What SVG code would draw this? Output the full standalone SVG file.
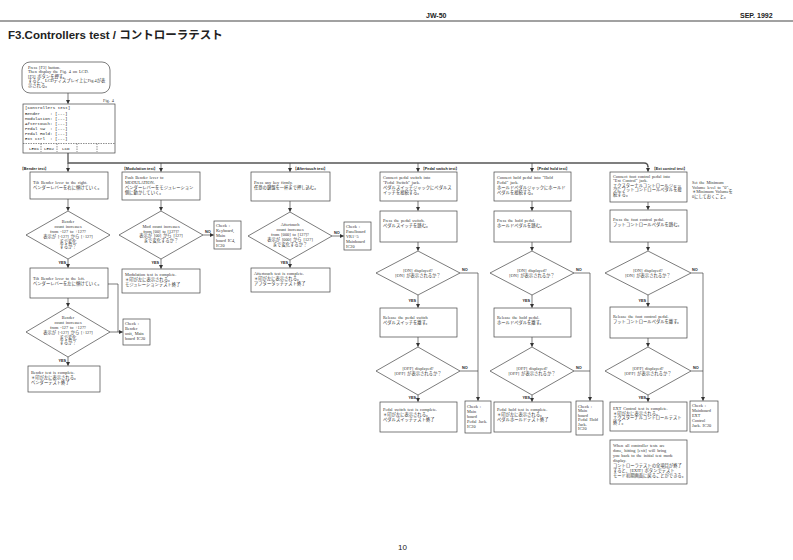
<svg xmlns="http://www.w3.org/2000/svg" width="793" height="560" viewBox="0 0 793 560">
<defs>
<marker id="ar" markerWidth="4" markerHeight="4" refX="3.5" refY="2" orient="auto" markerUnits="userSpaceOnUse"><path d="M0,0 L4,2 L0,4 z" fill="#333"/></marker>
<style>
.bx{fill:#fff;stroke:#444;stroke-width:0.7}
.c{fill:none;stroke:#444;stroke-width:0.7}
.bus{fill:none;stroke:#555;stroke-width:1.3}
.t{font-family:"Liberation Serif","Noto Sans CJK JP",serif;font-size:4.3px;fill:#333;word-spacing:0.8px}
.m{text-anchor:middle}
.y{font-family:"Liberation Sans",sans-serif;font-size:3.8px;font-weight:bold;fill:#222}
.lb{font-family:"Liberation Sans","Noto Sans CJK JP",sans-serif;font-size:3.8px;font-weight:bold;fill:#222}
.lcd{font-family:"Liberation Mono","Noto Sans CJK JP",monospace;font-size:4.2px;fill:#222}
.hd{font-family:"Liberation Sans",sans-serif;font-size:7px;font-weight:bold;fill:#222}
</style>
</defs>
<rect width="793" height="560" fill="#fff"/>
<g id="header">
<line x1="0" y1="21" x2="793" y2="21" stroke="#444" stroke-width="1.2"/>
<text class="hd" x="426" y="18">JW-50</text>
<text class="hd" x="740" y="18">SEP. 1992</text>
<text x="8" y="39" font-family="Liberation Sans,'Noto Sans CJK JP',sans-serif" font-size="11.5" font-weight="bold" fill="#222">F3.Controllers test / コントローラテスト</text>
<text x="398" y="550" font-family="Liberation Sans,sans-serif" font-size="8" fill="#222">10</text>
</g>
<g id="connectors">
<path class="c" d="M68,93 V103.5" marker-end="url(#ar)"/>
<path class="bus" d="M68,153 V163 H644 Q648,163 648,167"/>
<path class="c" d="M68,163 V171.5" marker-end="url(#ar)"/>
<path class="c" d="M161,163 V171.5" marker-end="url(#ar)"/>
<path class="c" d="M290,163 V171.5" marker-end="url(#ar)"/>
<path class="c" d="M418,163 V171.5" marker-end="url(#ar)"/>
<path class="c" d="M532,163 V171.5" marker-end="url(#ar)"/>
<path class="c" d="M648,166 V171.5" marker-end="url(#ar)"/>
<path class="c" d="M68,199 V210.5" marker-end="url(#ar)"/>
<path class="c" d="M68,259 V267.5" marker-end="url(#ar)"/>
<path class="c" d="M68,298 V306.5" marker-end="url(#ar)"/>
<path class="c" d="M68,357 V365.5" marker-end="url(#ar)"/>
<path class="c" d="M108,284 H118 V332"/>
<path class="c" d="M110,332 H122.5" marker-end="url(#ar)"/>
<path class="c" d="M161,200 V210.5" marker-end="url(#ar)"/>
<path class="c" d="M161,259 V268.5" marker-end="url(#ar)"/>
<path class="c" d="M203,235 H213.5" marker-end="url(#ar)"/>
<path class="c" d="M290,201 V211.5" marker-end="url(#ar)"/>
<path class="c" d="M290,260 V267.5" marker-end="url(#ar)"/>
<path class="c" d="M332,236 H343.5" marker-end="url(#ar)"/>
<path class="c" d="M418,201 V210.5" marker-end="url(#ar)"/>
<path class="c" d="M418,242 V250.5" marker-end="url(#ar)"/>
<path class="c" d="M418,295 V307.5" marker-end="url(#ar)"/>
<path class="c" d="M418,337 V346.5" marker-end="url(#ar)"/>
<path class="c" d="M418,395 V401.5" marker-end="url(#ar)"/>
<path class="c" d="M460,273 H478 V400.5" marker-end="url(#ar)"/>
<path class="c" d="M460,371 H478"/>
<path class="c" d="M532,201 V210.5" marker-end="url(#ar)"/>
<path class="c" d="M532,242 V250.5" marker-end="url(#ar)"/>
<path class="c" d="M532,295 V307.5" marker-end="url(#ar)"/>
<path class="c" d="M532,337 V346.5" marker-end="url(#ar)"/>
<path class="c" d="M532,395 V401.5" marker-end="url(#ar)"/>
<path class="c" d="M574,273 H590 V400.5" marker-end="url(#ar)"/>
<path class="c" d="M574,371 H590"/>
<path class="c" d="M648,202 V209.5" marker-end="url(#ar)"/>
<path class="c" d="M648,242 V250.5" marker-end="url(#ar)"/>
<path class="c" d="M648,295 V306.5" marker-end="url(#ar)"/>
<path class="c" d="M648,338 V346.5" marker-end="url(#ar)"/>
<path class="c" d="M648,395 V401.5" marker-end="url(#ar)"/>
<path class="c" d="M691,273 H703 V400.5" marker-end="url(#ar)"/>
<path class="c" d="M691,371 H703"/>
</g>
<g id="start">
<rect class="bx" x="22" y="62" width="88" height="31" rx="8"/>
<text class="t" x="28" y="68.5">Press [F3] button.</text>
<text class="t" x="28" y="73">Then display the Fig. 4 on LCD.</text>
<text class="t" x="28" y="77.5">[F3] ボタンを押す。</text>
<text class="t" x="28" y="82">すると、LCDディスプレイ上にFig.4が表</text>
<text class="t" x="28" y="86.5">示される。</text>
</g>
<g id="lcd">
<text class="t" x="103" y="102">Fig. 4</text>
<rect class="bx" x="23" y="104" width="92" height="49"/>
<text class="lcd" x="25" y="109">[Controllers test]</text>
<text class="lcd" x="25" y="114.5">Bender</text><text class="lcd" x="50" y="114.5">: [---]</text>
<text class="lcd" x="25" y="119.5">Modulation</text><text class="lcd" x="50" y="119.5">: [---]</text>
<text class="lcd" x="25" y="124.5">Aftertouch</text><text class="lcd" x="50" y="124.5">: [---]</text>
<text class="lcd" x="25" y="129.5">Pedal SW</text><text class="lcd" x="50" y="129.5">: [---]</text>
<text class="lcd" x="25" y="134.5">Pedal Hold</text><text class="lcd" x="50" y="134.5">: [---]</text>
<text class="lcd" x="25" y="139.5">Ext ctrl</text><text class="lcd" x="50" y="139.5">: [---]</text>
<line x1="23" y1="143.5" x2="115" y2="143.5" stroke="#444" stroke-width="0.6" stroke-dasharray="1.5,1"/>
<path d="M41,143.5 V152 M57,143.5 V152 M77,143.5 V152 M97,143.5 V152" stroke="#444" stroke-width="0.6" stroke-dasharray="1.5,1"/>
<text class="lcd" x="29" y="149.5">LED1</text>
<text class="lcd" x="44" y="149.5">LED2</text>
<text class="lcd" x="62" y="149.5">LCD</text>
</g>
<g id="bender">
<text class="lb" x="20" y="170">【Bender test】</text>
<rect class="bx" x="30" y="172" width="78" height="27"/>
<text class="t" x="33" y="184">Tilt Bender lever to the right.</text>
<text class="t" x="33" y="189">ベンダーレバーを右に傾けていく。</text>
<polygon class="bx" points="68,211 110,235 68,259 26,235"/>
<text class="t m" x="68" y="223">Bender</text>
<text class="t m" x="68" y="228">count increases</text>
<text class="t m" x="68" y="233">from -127 to +127?</text>
<text class="t m" x="68" y="238">表示が [-127] から [+127]</text>
<text class="t m" x="68" y="243">まで変化</text>
<text class="t m" x="68" y="248">するか？</text>
<text class="y" x="66" y="264" text-anchor="end">YES</text>
<rect class="bx" x="30" y="268" width="78" height="30"/>
<text class="t" x="33" y="280">Tilt Bender lever to the left.</text>
<text class="t" x="33" y="285">ベンダーレバーを左に傾けていく。</text>
<polygon class="bx" points="68,307 110,332 68,357 26,332"/>
<text class="t m" x="68" y="319">Bender</text>
<text class="t m" x="68" y="324">count increases</text>
<text class="t m" x="68" y="329">from -127 to +127?</text>
<text class="t m" x="68" y="334">表示が [-127] から [+127]</text>
<text class="t m" x="68" y="339">まで変化</text>
<text class="t m" x="68" y="344">するか？</text>
<text class="y" x="66" y="362" text-anchor="end">YES</text>
<rect class="bx" x="28" y="366" width="72" height="26"/>
<text class="t" x="31" y="374">Bender test is complete.</text>
<text class="t" x="31" y="379">＊印が左に表示される。</text>
<text class="t" x="31" y="384">ベンダーテスト終了</text>
</g>
<g id="bender-check">
<rect class="bx" x="123" y="319" width="27" height="26"/>
<text class="t" x="125" y="325">Check :</text>
<text class="t" x="125" y="330">Bender</text>
<text class="t" x="125" y="335">unit, Main</text>
<text class="t" x="125" y="340">board IC20</text>
</g>
<g id="modulation">
<text class="lb" x="122" y="169.5">【Modulation test】</text>
<rect class="bx" x="122" y="172" width="78" height="28"/>
<text class="t" x="125" y="179">Push Bender lever to</text>
<text class="t" x="125" y="184">MODULATION.</text>
<text class="t" x="125" y="189">ベンダーレバーをモジュレーション</text>
<text class="t" x="125" y="194">側に動かしていく。</text>
<polygon class="bx" points="161,211 203,235 161,259 119,235"/>
<text class="t m" x="161" y="228">Mod count increases</text>
<text class="t m" x="161" y="232.6">from [00] to [127]?</text>
<text class="t m" x="161" y="237.2">表示が [00] から [127]</text>
<text class="t m" x="161" y="241.8">まで変化するか？</text>
<text class="y" x="205" y="233">NO</text>
<text class="y" x="159" y="264" text-anchor="end">YES</text>
<rect class="bx" x="122" y="269" width="78" height="24"/>
<text class="t" x="125" y="276">Modulation test is complete.</text>
<text class="t" x="125" y="281">＊印が左に表示される。</text>
<text class="t" x="125" y="286">モジュレーションテスト終了</text>
</g>
<g id="modulation-check">
<rect class="bx" x="214" y="221" width="27" height="28"/>
<text class="t" x="216" y="227">Check :</text>
<text class="t" x="216" y="232">Keyboard,</text>
<text class="t" x="216" y="237">Main</text>
<text class="t" x="216" y="242">board IC4,</text>
<text class="t" x="216" y="247">IC20</text>
</g>
<g id="aftertouch">
<text class="lb" x="293" y="169.5">【Aftertouch test】</text>
<rect class="bx" x="251" y="172" width="79" height="29"/>
<text class="t" x="254" y="184">Press any key firmly.</text>
<text class="t" x="254" y="189">任意の鍵盤を一杯まで押し込む。</text>
<polygon class="bx" points="290,212 332,236 290,260 248,236"/>
<text class="t m" x="290" y="226">Aftertouch</text>
<text class="t m" x="290" y="231">count increases</text>
<text class="t m" x="290" y="236">from [000] to [127]?</text>
<text class="t m" x="290" y="241">表示が [000] から [127]</text>
<text class="t m" x="290" y="246">まで変化するか？</text>
<text class="y" x="334" y="234">NO</text>
<text class="y" x="288" y="264" text-anchor="end">YES</text>
<rect class="bx" x="251" y="268" width="79" height="24"/>
<text class="t" x="254" y="275">Aftertouch test is complete.</text>
<text class="t" x="254" y="280">＊印が左に表示される。</text>
<text class="t" x="254" y="285">アフタータッチテスト終了</text>
</g>
<g id="aftertouch-check">
<rect class="bx" x="344" y="222" width="27" height="28"/>
<text class="t" x="346" y="228">Check :</text>
<text class="t" x="346" y="233">Panelboard</text>
<text class="t" x="346" y="238">VR1~5</text>
<text class="t" x="346" y="243">Mainboard</text>
<text class="t" x="346" y="248">IC20</text>
</g>
<g id="pedal-switch">
<text class="lb" x="421" y="169.5">【Pedal switch test】</text>
<rect class="bx" x="380" y="172" width="77" height="29"/>
<text class="t" x="383" y="179">Connect pedal switch into</text>
<text class="t" x="383" y="184">"Pedal Switch" jack.</text>
<text class="t" x="383" y="189">ペダルスイッチジャックにペダルス</text>
<text class="t" x="383" y="194">イッチを接続する。</text>
<rect class="bx" x="380" y="211" width="77" height="31"/>
<text class="t" x="383" y="222">Press the pedal switch.</text>
<text class="t" x="383" y="227">ペダルスイッチを踏む。</text>
<polygon class="bx" points="418,251 460,273 418,295 376,273"/>
<text class="t m" x="418" y="271.5">[ON] displayed?</text>
<text class="t m" x="418" y="276.5">[ON] が表示されるか？</text>
<text class="y" x="462" y="271">NO</text>
<text class="y" x="416" y="302" text-anchor="end">YES</text>
<rect class="bx" x="380" y="308" width="77" height="29"/>
<text class="t" x="383" y="319">Release the pedal switch</text>
<text class="t" x="383" y="324">ペダルスイッチを離す。</text>
<polygon class="bx" points="418,347 460,371 418,395 376,371"/>
<text class="t m" x="418" y="369.5">[OFF] displayed?</text>
<text class="t m" x="418" y="374.5">[OFF] が表示されるか？</text>
<text class="y" x="462" y="369">NO</text>
<text class="y" x="416" y="399" text-anchor="end">YES</text>
<rect class="bx" x="380" y="402" width="77" height="30"/>
<text class="t" x="383" y="411">Pedal switch test is complete.</text>
<text class="t" x="383" y="416">＊印が左に表示される。</text>
<text class="t" x="383" y="421">ペダルスイッチテスト終了</text>
</g>
<g id="pedal-switch-check">
<rect class="bx" x="465" y="401" width="26" height="32"/>
<text class="t" x="467" y="408">Check :</text>
<text class="t" x="467" y="413">Main</text>
<text class="t" x="467" y="418">board</text>
<text class="t" x="467" y="423">Pedal Jack.</text>
<text class="t" x="467" y="428">IC20</text>
</g>
<g id="pedal-hold">
<text class="lb" x="535" y="169.5">【Pedal hold test】</text>
<rect class="bx" x="494" y="172" width="77" height="29"/>
<text class="t" x="497" y="179">Connect hold pedal into "Hold</text>
<text class="t" x="497" y="184">Pedal" jack.</text>
<text class="t" x="497" y="189">ホールドペダルジャックにホールド</text>
<text class="t" x="497" y="194">ペダルを接続する。</text>
<rect class="bx" x="494" y="211" width="77" height="31"/>
<text class="t" x="497" y="222">Press the hold pedal.</text>
<text class="t" x="497" y="227">ホールドペダルを踏む。</text>
<polygon class="bx" points="532,251 574,273 532,295 490,273"/>
<text class="t m" x="532" y="271.5">[ON] displayed?</text>
<text class="t m" x="532" y="276.5">[ON] が表示されるか？</text>
<text class="y" x="576" y="271">NO</text>
<text class="y" x="530" y="302" text-anchor="end">YES</text>
<rect class="bx" x="494" y="308" width="77" height="29"/>
<text class="t" x="497" y="319">Release the hold pedal.</text>
<text class="t" x="497" y="324">ホールドペダルを離す。</text>
<polygon class="bx" points="532,347 574,371 532,395 490,371"/>
<text class="t m" x="532" y="369.5">[OFF] displayed?</text>
<text class="t m" x="532" y="374.5">[OFF] が表示されるか？</text>
<text class="y" x="576" y="369">NO</text>
<text class="y" x="530" y="399" text-anchor="end">YES</text>
<rect class="bx" x="494" y="402" width="77" height="30"/>
<text class="t" x="497" y="411">Pedal hold test is complete.</text>
<text class="t" x="497" y="416">＊印が左に表示される。</text>
<text class="t" x="497" y="421">ペダルホールドテスト終了</text>
</g>
<g id="pedal-hold-check">
<rect class="bx" x="576" y="401" width="27" height="34"/>
<text class="t" x="578" y="407.5">Check :</text>
<text class="t" x="578" y="412">Main</text>
<text class="t" x="578" y="416.5">board</text>
<text class="t" x="578" y="421">Pedal Hold</text>
<text class="t" x="578" y="425.5">Jack.</text>
<text class="t" x="578" y="430">IC20</text>
</g>
<g id="ext-control">
<text class="lb" x="652" y="169.5">【Ext control test】</text>
<rect class="bx" x="610" y="172" width="77" height="30"/>
<text class="t" x="613" y="177.5">Connect foot control pedal into</text>
<text class="t" x="613" y="182">"Ext Control" jack.</text>
<text class="t" x="613" y="186.5">エクスターナルコントロールジャッ</text>
<text class="t" x="613" y="191">クにフットコントロールペダルを接</text>
<text class="t" x="613" y="195.5">続する。</text>
<text class="t" x="692" y="184">Set the Minimum</text>
<text class="t" x="692" y="188.5">Volume level to "0".</text>
<text class="t" x="692" y="193">＊Minimum Volumeを</text>
<text class="t" x="692" y="197.5">0にしておくこと。</text>
<rect class="bx" x="610" y="210" width="77" height="32"/>
<text class="t" x="613" y="221">Press the foot control pedal.</text>
<text class="t" x="613" y="226">フットコントロールペダルを踏む。</text>
<polygon class="bx" points="648,251 691,273 648,295 605,273"/>
<text class="t m" x="648" y="271.5">[ON] displayed?</text>
<text class="t m" x="648" y="276.5">[ON] が表示されるか？</text>
<text class="y" x="692" y="271">NO</text>
<text class="y" x="646" y="302" text-anchor="end">YES</text>
<rect class="bx" x="610" y="307" width="77" height="31"/>
<text class="t" x="613" y="318">Release the foot control pedal.</text>
<text class="t" x="613" y="323">フットコントロールペダルを離す。</text>
<polygon class="bx" points="648,347 691,371 648,395 605,371"/>
<text class="t m" x="648" y="369.5">[OFF] displayed?</text>
<text class="t m" x="648" y="374.5">[OFF] が表示されるか？</text>
<text class="y" x="693" y="369">NO</text>
<text class="y" x="646" y="399" text-anchor="end">YES</text>
<rect class="bx" x="610" y="402" width="77" height="29"/>
<text class="t" x="613" y="410">EXT Control test is complete.</text>
<text class="t" x="613" y="414.6">＊印が左に表示される。</text>
<text class="t" x="613" y="419.2">エクスターナルコントロールテスト</text>
<text class="t" x="613" y="423.8">終了。</text>
</g>
<g id="ext-check">
<rect class="bx" x="690" y="401" width="28" height="31"/>
<text class="t" x="692" y="407">Check :</text>
<text class="t" x="692" y="412">Mainboard</text>
<text class="t" x="692" y="417">EXT</text>
<text class="t" x="692" y="422">Control</text>
<text class="t" x="692" y="427">Jack. IC20</text>
</g>
<g id="final-note">
<rect class="bx" x="610" y="440" width="77" height="44"/>
<text class="t" x="613" y="447">When all controller tests are</text>
<text class="t" x="613" y="452">done, hitting [exit] will bring</text>
<text class="t" x="613" y="457">you back to the initial test mode</text>
<text class="t" x="613" y="461.5">display.</text>
<text class="t" x="613" y="466.5">コントローラテストの全項目が終了</text>
<text class="t" x="613" y="471.5">すると、[EXIT] ボタンでテスト</text>
<text class="t" x="613" y="476.5">モード初期画面に戻ることができる。</text>
</g>
</svg>
